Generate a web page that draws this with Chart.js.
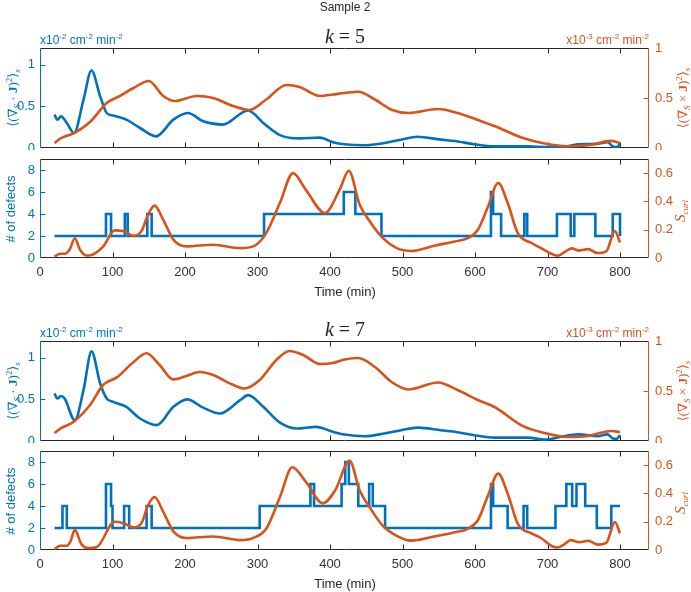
<!DOCTYPE html>
<html>
<head>
<meta charset="utf-8">
<script src="https://cdn.jsdelivr.net/npm/chart.js@4.4.1/dist/chart.umd.min.js"></script>
<style>
  body { margin: 0; background: #fff; }
  #wrap { position: relative; width: 691px; height: 592px; }
  #wrap canvas { position: absolute; left: 0; }
</style>
</head>
<body>
<div id="wrap">
  <canvas id="k5top" width="691" height="150" style="top:0px"></canvas>
  <canvas id="k5def" width="691" height="150" style="top:150px"></canvas>
  <canvas id="k7top" width="691" height="150" style="top:293px"></canvas>
  <canvas id="k7def" width="691" height="150" style="top:442px"></canvas>
</div>
<script>
// ---- data ----
const timeTicks = [0, 100, 200, 300, 400, 500, 600, 700, 800];
const fluxTicks = [0, 0.5, 1];
const defectTicks = [0, 2, 4, 6, 8];
const scurlTicks = [0, 0.2, 0.4, 0.6];

// k = 5, divergence (left axis, x10^-2)
const k5DivTime = [20, 24, 29, 37, 47, 60, 71, 83, 92, 101, 119, 138, 160, 184, 204, 225, 252, 287, 308, 331, 358, 386, 404, 420, 448, 475, 498, 521, 553, 572, 599, 627, 673, 700, 719, 742, 769, 783, 790, 795, 800];
const k5DivVal = [0.40, 0.34, 0.38, 0.30, 0.18, 0.58, 0.93, 0.62, 0.42, 0.39, 0.34, 0.24, 0.14, 0.34, 0.42, 0.32, 0.28, 0.45, 0.30, 0.155, 0.115, 0.125, 0.07, 0.045, 0.033, 0.06, 0.10, 0.135, 0.10, 0.085, 0.045, 0.02, 0.02, 0.01, 0.01, 0.045, 0.05, 0.07, 0.02, 0.01, 0.045];
// k = 5, curl (right axis, x10^-3)
const k5CurlTime = [20, 28, 46, 69, 92, 110, 129, 150, 170, 186, 216, 239, 266, 289, 312, 340, 358, 386, 404, 420, 439, 462, 485, 508, 549, 576, 604, 627, 664, 696, 728, 756, 788, 800];
const k5CurlVal = [0.05, 0.095, 0.146, 0.26, 0.45, 0.52, 0.60, 0.67, 0.52, 0.47, 0.52, 0.50, 0.42, 0.38, 0.485, 0.63, 0.61, 0.52, 0.535, 0.55, 0.563, 0.485, 0.383, 0.35, 0.39, 0.35, 0.28, 0.22, 0.105, 0.045, 0.017, 0.027, 0.071, 0.05];
// k = 5, number of defects (step) and S_curl
const k5DefTime = [20, 91, 98, 117, 121, 148, 154, 309, 419, 435, 471, 622, 625, 636, 668, 672, 713, 732, 737, 766, 790, 800];
const k5DefCount = [2, 4, 2, 4, 2, 4, 2, 4, 6, 4, 2, 6, 4, 2, 4, 2, 4, 2, 4, 2, 4, 2];
const k5ScurlTime = [20, 28, 34, 41, 48, 55, 64, 70, 87, 103, 115, 129, 140, 149, 158, 170, 184, 202, 239, 276, 294, 312, 331, 349, 367, 393, 413, 426, 441, 455, 473, 492, 512, 544, 572, 590, 604, 618, 632, 645, 659, 678, 691, 705, 714, 723, 733, 744, 756, 769, 781, 793, 800];
const k5ScurlVal = [0.01, 0.03, 0.03, 0.06, 0.14, 0.06, 0.018, 0.02, 0.08, 0.195, 0.19, 0.157, 0.19, 0.305, 0.37, 0.27, 0.13, 0.082, 0.094, 0.07, 0.082, 0.176, 0.39, 0.60, 0.48, 0.318, 0.48, 0.616, 0.376, 0.258, 0.14, 0.07, 0.05, 0.087, 0.117, 0.14, 0.2, 0.364, 0.53, 0.39, 0.176, 0.106, 0.07, 0.03, 0.016, 0.04, 0.068, 0.052, 0.063, 0.035, 0.047, 0.19, 0.11];

// k = 7
const k7DivTime = [20, 24, 29, 34, 48, 60, 71, 83, 92, 101, 119, 138, 161, 184, 203, 225, 248, 276, 287, 308, 331, 354, 381, 404, 420, 448, 475, 498, 521, 553, 572, 599, 627, 673, 696, 719, 742, 769, 783, 790, 795, 800];
const k7DivVal = [0.57, 0.51, 0.54, 0.51, 0.25, 0.61, 1.075, 0.69, 0.51, 0.47, 0.41, 0.27, 0.19, 0.41, 0.50, 0.40, 0.33, 0.49, 0.55, 0.41, 0.22, 0.15, 0.17, 0.11, 0.077, 0.057, 0.09, 0.13, 0.16, 0.13, 0.11, 0.07, 0.04, 0.04, 0.017, 0.05, 0.08, 0.057, 0.08, 0.03, 0.025, 0.07];
const k7CurlTime = [20, 28, 46, 69, 87, 106, 129, 147, 165, 184, 202, 220, 239, 262, 282, 303, 326, 344, 363, 386, 404, 420, 439, 462, 485, 508, 549, 576, 604, 627, 664, 696, 728, 756, 788, 800];
const k7CurlVal = [0.08, 0.124, 0.19, 0.36, 0.56, 0.636, 0.79, 0.877, 0.76, 0.616, 0.65, 0.69, 0.66, 0.576, 0.525, 0.61, 0.81, 0.90, 0.86, 0.77, 0.78, 0.815, 0.83, 0.74, 0.59, 0.515, 0.585, 0.51, 0.41, 0.34, 0.157, 0.08, 0.04, 0.05, 0.10, 0.09];
const k7DefTime = [20, 31, 37, 91, 98, 100, 116, 123, 147, 154, 303, 373, 378, 416, 421, 426, 439, 454, 459, 476, 622, 625, 645, 667, 672, 711, 726, 734, 740, 752, 768, 788, 800];
const k7DefCount = [2, 4, 2, 6, 4, 2, 4, 2, 4, 2, 4, 6, 4, 6, 8, 6, 4, 6, 4, 2, 6, 4, 2, 4, 2, 4, 6, 4, 6, 4, 2, 4, 4];
const k7ScurlTime = [20, 28, 37, 42, 48, 57, 66, 78, 103, 115, 129, 140, 149, 158, 170, 184, 202, 239, 276, 294, 312, 331, 348, 367, 390, 407, 427, 441, 455, 473, 492, 512, 544, 572, 590, 604, 618, 632, 645, 659, 678, 691, 705, 714, 723, 732, 744, 756, 769, 781, 793, 800];
const k7ScurlVal = [0.007, 0.03, 0.03, 0.06, 0.142, 0.043, 0.014, 0.02, 0.20, 0.19, 0.16, 0.19, 0.315, 0.375, 0.27, 0.132, 0.085, 0.095, 0.07, 0.085, 0.15, 0.375, 0.585, 0.48, 0.33, 0.42, 0.63, 0.42, 0.30, 0.17, 0.10, 0.066, 0.095, 0.125, 0.15, 0.21, 0.386, 0.54, 0.40, 0.185, 0.118, 0.085, 0.03, 0.018, 0.04, 0.07, 0.055, 0.065, 0.038, 0.05, 0.197, 0.118];

// ---- styles ----
const BLUE = '#0072BD';
const ORANGE = '#D95319';
const DARK = '#262626';
const SANS = "'Liberation Sans', Arial, sans-serif";
const SERIF = "'Liberation Serif', 'DejaVu Serif', serif";

function pts(xs, ys) {
    return xs.map((x, i) => ({ x: x, y: ys[i] }));
}

function fixTicks(list) {
    return function(scale) {
        scale.ticks = list.map(v => ({ value: v }));
    };
}

// draws a sequence of text runs (for super/subscripts), optionally rotated
function drawRuns(ctx, runs, x, y, color, align, rotated) {
    ctx.save();
    ctx.translate(x, y);
    if (rotated) ctx.rotate(-Math.PI / 2);
    ctx.fillStyle = color;
    ctx.textBaseline = 'alphabetic';
    ctx.textAlign = 'left';
    let w = 0;
    const widths = runs.map(r => {
        ctx.font = r.f;
        const m = ctx.measureText(r.t).width;
        w += m;
        return m;
    });
    let cx = align === 'center' ? -w / 2 : (align === 'right' ? -w : 0);
    runs.forEach((r, i) => {
        ctx.font = r.f;
        ctx.fillText(r.t, cx, r.dy || 0);
        cx += widths[i];
    });
    ctx.restore();
}

function unitRuns(exp) {
    const big = '12px ' + SANS, small = '8px ' + SANS;
    return [
        { t: 'x10', f: big }, { t: exp, f: small, dy: -5 },
        { t: ' cm', f: big }, { t: '-2', f: small, dy: -5 },
        { t: ' min', f: big }, { t: '-2', f: small, dy: -5 }
    ];
}

function fluxRuns(op) {
    const m = '13px ' + SERIF, s = '9px ' + SERIF;
    return [
        { t: '\u27E8(\u2207', f: m }, { t: 'S', f: 'italic ' + s, dy: 3 },
        { t: ' ' + op + ' ', f: m }, { t: 'J', f: 'bold ' + m },
        { t: ')', f: m }, { t: '2', f: s, dy: -5 },
        { t: '\u27E9', f: m }, { t: 's', f: 'italic ' + s, dy: 3 }
    ];
}

// box and inward tick marks, MATLAB style
const frame = {
    id: 'frame',
    beforeDatasetsDraw(chart) {
        const { ctx, chartArea: a, scales } = chart;
        const L = Math.round(a.left) + 0.5, R = Math.round(a.right) - 0.5;
        const T = Math.round(a.top) + 0.5, B = Math.round(a.bottom) - 0.5;
        const tl = 5;
        ctx.save();
        ctx.lineWidth = 1;
        ctx.strokeStyle = DARK;
        ctx.beginPath();
        ctx.moveTo(L, T); ctx.lineTo(R, T);
        ctx.moveTo(L, B); ctx.lineTo(R, B);
        scales.x.ticks.forEach(t => {
            if (t.value <= scales.x.min || t.value >= scales.x.max) return;
            const px = Math.round(scales.x.getPixelForValue(t.value)) + 0.5;
            ctx.moveTo(px, T); ctx.lineTo(px, T + tl);
            ctx.moveTo(px, B); ctx.lineTo(px, B - tl);
        });
        ctx.stroke();
        [['y', L, 1, BLUE], ['y1', R, -1, ORANGE]].forEach(([id, x, dir, col]) => {
            const s = scales[id];
            ctx.strokeStyle = col;
            ctx.beginPath();
            ctx.moveTo(x, T); ctx.lineTo(x, B);
            s.ticks.forEach(t => {
                if (t.value <= s.min || t.value >= s.max) return;
                const py = Math.round(s.getPixelForValue(t.value)) + 0.5;
                ctx.moveTo(x, py); ctx.lineTo(x + dir * tl, py);
            });
            ctx.stroke();
        });
        ctx.restore();
    }
};

function textLayer(texts) {
    return {
        id: 'texts',
        afterDraw(chart) {
            texts.forEach(t => drawRuns(chart.ctx, t.runs, t.x, t.y, t.color, t.align, t.rot));
        }
    };
}

function yScale(pos, max, ticks, color, width) {
    return {
        type: 'linear',
        position: pos,
        min: 0,
        max: max,
        afterBuildTicks: fixTicks(ticks),
        afterFit: function(s) {
            s.width = width;
            s.paddingTop = 0; s.paddingBottom = 0;
        },
        grid: { display: false, drawTicks: false },
        border: { display: false },
        ticks: {
            color: color,
            padding: pos === 'left' ? 5 : 6,
            font: { family: SANS, size: 13 },
            callback: v => String(v)
        }
    };
}

function makePanel(id, o) {
    return new Chart(document.getElementById(id), {
        type: 'line',
        data: {
            datasets: [
                {
                    data: pts(o.blueT, o.blueV),
                    yAxisID: 'y',
                    borderColor: BLUE,
                    borderWidth: 2.6,
                    pointRadius: 0,
                    // horizontal until the next change time, then vertical (stairs)
                    stepped: o.stepped ? 'before' : false,
                    cubicInterpolationMode: 'monotone',
                    order: 2
                },
                {
                    data: pts(o.orangeT, o.orangeV),
                    yAxisID: 'y1',
                    borderColor: ORANGE,
                    borderWidth: 2.6,
                    pointRadius: 0,
                    cubicInterpolationMode: 'monotone',
                    order: 1
                }
            ]
        },
        options: {
            responsive: false,
            animation: false,
            events: [],
            layout: { padding: { top: o.padTop, left: 0, right: 0, bottom: 0 } },
            plugins: { legend: { display: false }, tooltip: { enabled: false } },
            scales: {
                x: {
                    type: 'linear',
                    min: 0,
                    max: 840,
                    afterBuildTicks: fixTicks(timeTicks),
                    afterFit: function(s) {
                        s.height = o.xHeight;
                        s.paddingLeft = 0; s.paddingRight = 0;
                    },
                    grid: { display: false, drawTicks: false },
                    border: { display: false },
                    ticks: {
                        display: o.showX,
                        color: '#333333',
                        padding: 7,
                        maxRotation: 0,
                        autoSkip: false,
                        font: { family: SANS, size: 13 },
                        callback: v => String(v)
                    }
                },
                y: yScale('left', o.yMax, o.yTicks, BLUE, 40),
                y1: yScale('right', o.y1Max, o.y1Ticks, ORANGE, 42)
            }
        },
        plugins: [frame, textLayer(o.texts)]
    });
}

function topTexts(k, sample) {
    const list = [
        { runs: [{ t: 'k', f: 'italic 20px ' + SERIF }, { t: ' = ' + k, f: '20px ' + SERIF }], x: 345, y: 43, color: DARK, align: 'center' },
        { runs: unitRuns('-2'), x: 40, y: 44, color: BLUE, align: 'left' },
        { runs: unitRuns('-3'), x: 649, y: 44, color: ORANGE, align: 'right' },
        { runs: fluxRuns('\u00B7'), x: 17, y: 98, color: BLUE, align: 'center', rot: true },
        { runs: fluxRuns('\u00D7'), x: 687, y: 98, color: ORANGE, align: 'center', rot: true }
    ];
    if (sample) {
        list.push({ runs: [{ t: 'Sample 2', f: '12px ' + SANS }], x: 345, y: 11, color: DARK, align: 'center' });
    }
    return list;
}

function defTexts() {
    return [
        { runs: [{ t: '# of defects', f: '13px ' + SANS }], x: 15, y: 59, color: BLUE, align: 'center', rot: true },
        { runs: [{ t: 'S', f: 'italic 15px ' + SERIF }, { t: 'curl', f: 'italic 9px ' + SERIF, dy: 3 }], x: 685, y: 61, color: ORANGE, align: 'center', rot: true },
        { runs: [{ t: 'Time (min)', f: '13px ' + SANS }], x: 345, y: 146, color: DARK, align: 'center' }
    ];
}

makePanel('k5top', {
    blueT: k5DivTime, blueV: k5DivVal, orangeT: k5CurlTime, orangeV: k5CurlVal,
    yMax: 1.2, yTicks: fluxTicks, y1Max: 1, y1Ticks: fluxTicks,
    padTop: 48, xHeight: 2, showX: false, texts: topTexts(5, true)
});
makePanel('k5def', {
    blueT: k5DefTime, blueV: k5DefCount, orangeT: k5ScurlTime, orangeV: k5ScurlVal, stepped: true,
    yMax: 9, yTicks: defectTicks, y1Max: 0.7, y1Ticks: scurlTicks,
    padTop: 9, xHeight: 42, showX: true, texts: defTexts()
});
makePanel('k7top', {
    blueT: k7DivTime, blueV: k7DivVal, orangeT: k7CurlTime, orangeV: k7CurlVal,
    yMax: 1.2, yTicks: fluxTicks, y1Max: 1, y1Ticks: fluxTicks,
    padTop: 48, xHeight: 2, showX: false, texts: topTexts(7, false)
});
makePanel('k7def', {
    blueT: k7DefTime, blueV: k7DefCount, orangeT: k7ScurlTime, orangeV: k7ScurlVal, stepped: true,
    yMax: 9, yTicks: defectTicks, y1Max: 0.7, y1Ticks: scurlTicks,
    padTop: 9, xHeight: 42, showX: true, texts: defTexts()
});
</script>
</body>
</html>
